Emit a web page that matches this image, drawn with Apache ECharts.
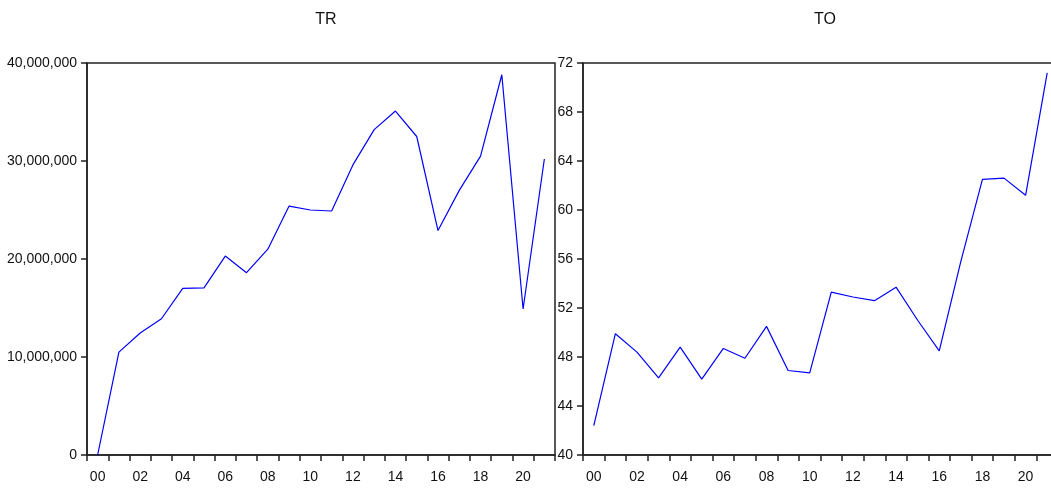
<!DOCTYPE html>
<html>
<head>
<meta charset="utf-8">
<script src="https://cdn.jsdelivr.net/npm/echarts@6/dist/echarts.min.js"></script>
<style>html,body{margin:0;padding:0;background:#fff;overflow:hidden;width:1051px;height:491px;}#c{width:1060px;height:491px;}</style>
</head>
<body>
<div id="c"></div>
<script>
const years = ['00','01','02','03','04','05','06','07','08','09','10','11','12','13','14','15','16','17','18','19','20','21'];
const trValues = [0, 10500000, 12450000, 13900000, 17000000, 17050000, 20300000, 18600000, 21000000, 25400000, 25000000, 24900000, 29600000, 33200000, 35100000, 32500000, 22900000, 27000000, 30500000, 38800000, 14900000, 30200000];
const toValues = [42.4, 49.9, 48.4, 46.3, 48.8, 46.2, 48.7, 47.9, 50.5, 46.9, 46.7, 53.3, 52.9, 52.6, 53.7, 51.0, 48.5, 55.8, 62.5, 62.6, 61.2, 71.2];
const titles = ['TR', 'TO'];

function commas(v){ return String(Math.round(v)).replace(/\B(?=(\d{3})+(?!\d))/g, ','); }

const font = 'Liberation Sans, Arial, sans-serif';
const axisLine = {show:true, lineStyle:{color:'#222', width:1.5}};
function xAxis(gi){
  return {
    type:'category', gridIndex:gi, data:years, boundaryGap:true,
    axisLine:axisLine,
    axisTick:{show:true, inside:false, length:6, interval:0, lineStyle:{color:'#222', width:1.5}},
    axisLabel:{interval:1, color:'#111', fontFamily:font, fontSize:14, margin:15},
    splitLine:{show:false}
  };
}
const chart = echarts.init(document.getElementById('c'), null, {renderer:'canvas'});
chart.setOption({
  animation:false,
  backgroundColor:'#fff',
  title:[
    {text:titles[0], left:321, top:7, textAlign:'center', textStyle:{fontFamily:font, fontSize:16, fontWeight:'normal', color:'#111'}},
    {text:titles[1], left:820, top:7, textAlign:'center', textStyle:{fontFamily:font, fontSize:16, fontWeight:'normal', color:'#111'}}
  ],
  grid:[
    {left:87, top:63, width:468, height:392, show:true, borderColor:'#222', borderWidth:1.5, backgroundColor:'transparent'},
    {left:583, top:63, width:475, height:392, show:true, borderColor:'#222', borderWidth:1.5, backgroundColor:'transparent'}
  ],
  xAxis:[xAxis(0), xAxis(1)],
  yAxis:[
    {type:'value', gridIndex:0, min:0, max:40000000, interval:10000000,
     axisLine:axisLine, axisTick:{show:true, length:6, lineStyle:{color:'#222', width:1.5}},
     axisLabel:{color:'#111', fontFamily:font, fontSize:14, margin:10, formatter:commas},
     splitLine:{show:false}},
    {type:'value', gridIndex:1, min:40, max:72, interval:4,
     axisLine:axisLine, axisTick:{show:true, length:6, lineStyle:{color:'#222', width:1.5}},
     axisLabel:{color:'#111', fontFamily:font, fontSize:14, margin:10},
     splitLine:{show:false}}
  ],
  series:[
    {type:'line', xAxisIndex:0, yAxisIndex:0, data:trValues, showSymbol:false, symbol:'none', lineStyle:{color:'#0000ff', width:1.2}},
    {type:'line', xAxisIndex:1, yAxisIndex:1, data:toValues, showSymbol:false, symbol:'none', lineStyle:{color:'#0000ff', width:1.2}}
  ]
});
</script>
</body>
</html>
